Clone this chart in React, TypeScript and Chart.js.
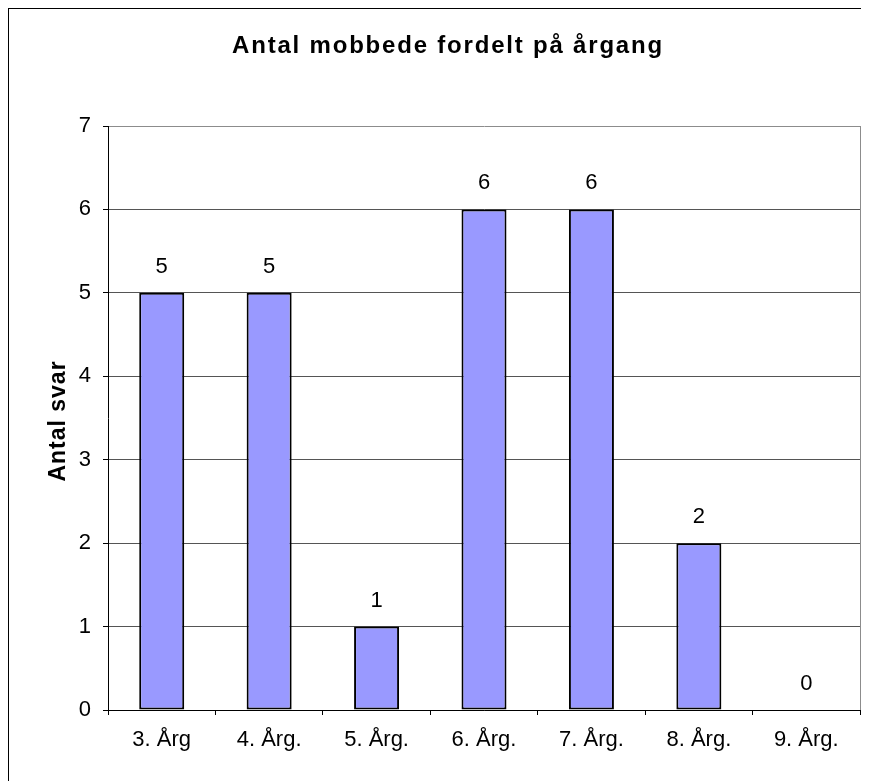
import React, { useEffect, useRef } from "react";
import { Chart, registerables } from "chart.js";

Chart.register(...registerables);

const categories = ["3. Årg", "4. Årg.", "5. Årg.", "6. Årg.", "7. Årg.", "8. Årg.", "9. Årg."];
const values = [5, 5, 1, 6, 6, 2, 0];
const yMin = 0;
const yMax = 7;
const yStep = 1;
const chartTitle = "Antal mobbede fordelt på årgang";
const yAxisTitle = "Antal svar";

const FONT = '"Liberation Sans", Arial, Helvetica, sans-serif';
const CW = 860;
const CH = 772;

const decorPlugin = {
  id: "decor",
  afterDatasetsDraw(chart: any) {
    const ctx = chart.ctx;
    const meta = chart.getDatasetMeta(0);
    ctx.save();
    ctx.font = `22px ${FONT}`;
    ctx.fillStyle = "#000";
    ctx.textAlign = "center";
    ctx.textBaseline = "alphabetic";
    meta.data.forEach((bar: any, i: number) => {
      ctx.fillText(String(values[i]), bar.x, bar.y - 20);
    });
    ctx.restore();
  },
  afterDraw(chart: any) {
    const { ctx, chartArea } = chart;
    ctx.save();
    // right border of plot area
    ctx.strokeStyle = "#8c8c8c";
    ctx.lineWidth = 1;
    const rx = Math.round(chartArea.right) + 0.5;
    ctx.beginPath();
    ctx.moveTo(rx, chartArea.top);
    ctx.lineTo(rx, chartArea.bottom);
    ctx.stroke();

    ctx.fillStyle = "#000";
    ctx.textAlign = "center";
    ctx.textBaseline = "alphabetic";
    // chart title
    ctx.font = `bold 24px ${FONT}`;
    (ctx as any).letterSpacing = "1.8px";
    ctx.fillText(chartTitle, 439, 44);
    // y axis title
    ctx.translate(56, (chartArea.top + chartArea.bottom) / 2 + 3);
    ctx.rotate(-Math.PI / 2);
    ctx.font = `bold 23px ${FONT}`;
    (ctx as any).letterSpacing = "1px";
    ctx.fillText(yAxisTitle, 0, 0);
    ctx.restore();
  },
};

export default function App() {
  const ref = useRef<HTMLCanvasElement | null>(null);

  useEffect(() => {
    document.documentElement.style.overflow = "hidden";
    document.body.style.overflow = "hidden";
    if (!ref.current) return;
    const chart = new Chart(ref.current, {
      type: "bar",
      data: {
        labels: categories,
        datasets: [
          {
            data: values,
            backgroundColor: "#9999FF",
            borderColor: "#000000",
            borderWidth: 2,
            borderSkipped: false,
            barPercentage: 0.419,
            categoryPercentage: 1,
          },
        ],
      },
      options: {
        responsive: false,
        maintainAspectRatio: false,
        animation: false,
        layout: { padding: { top: 117, right: 9, left: 0, bottom: 0 } },
        plugins: {
          legend: { display: false },
          tooltip: { enabled: false },
          title: { display: false },
        },
        scales: {
          x: {
            offset: true,
            grid: {
              display: true,
              offset: true,
              drawOnChartArea: false,
              drawTicks: true,
              tickLength: 5,
              tickColor: "#000",
              color: "#000",
            },
            border: { display: true, color: "#000", width: 1 },
            ticks: {
              color: "#000",
              font: { family: FONT, size: 22 },
              padding: 12,
              maxRotation: 0,
              autoSkip: false,
            },
            afterFit: (scale: any) => {
              scale.height = 71;
            },
          },
          y: {
            min: yMin,
            max: yMax,
            grid: {
              color: (c: any) => (c.tick && c.tick.value === yMax ? "#8c8c8c" : "#555555"),
              tickColor: "#000",
              tickLength: 5,
              drawTicks: true,
              lineWidth: 1,
            },
            border: { display: true, color: "#000", width: 1 },
            ticks: {
              stepSize: yStep,
              color: "#000",
              font: { family: FONT, size: 22 },
              padding: 12,
            },
            afterFit: (scale: any) => {
              scale.width = 99;
            },
          },
        },
      },
      plugins: [decorPlugin],
    });
    return () => chart.destroy();
  }, []);

  return (
    <div
      style={{
        width: CW,
        height: CH,
        borderLeft: "1px solid #000",
        borderTop: "1px solid #000",
        background: "#fff",
        overflow: "hidden",
      }}
    >
      <canvas ref={ref} width={CW} height={CH} style={{ display: "block", width: CW, height: CH }} />
    </div>
  );
}
